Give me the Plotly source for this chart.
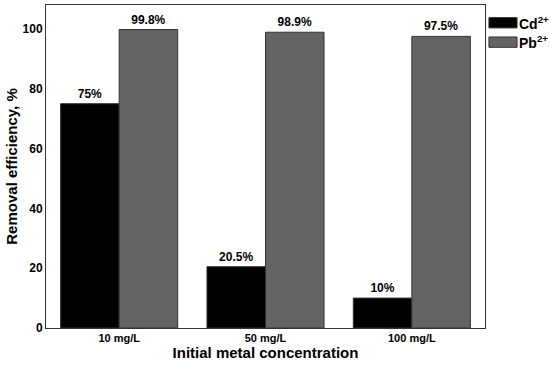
import plotly.graph_objects as go

categories = ["10 mg/L", "50 mg/L", "100 mg/L"]
cd_values = [75, 20.5, 10]
pb_values = [99.8, 98.9, 97.5]
cd_labels = ["75%", "20.5%", "10%"]
pb_labels = ["99.8%", "98.9%", "97.5%"]
y_ticks = [0, 20, 40, 60, 80, 100]

FONT = "Liberation Sans, Arial, sans-serif"
CD_COLOR = "#000000"
PB_COLOR = "#646464"

fig = go.Figure()
fig.add_trace(go.Bar(
    x=categories, y=cd_values, name="Cd2+",
    marker=dict(color=CD_COLOR, line=dict(color="#333333", width=1)),
    text=cd_labels, textposition="outside", cliponaxis=False,
    textfont=dict(family=FONT, size=12, color="black", weight="bold"),
    showlegend=False,
))
fig.add_trace(go.Bar(
    x=categories, y=pb_values, name="Pb2+",
    marker=dict(color=PB_COLOR, line=dict(color="#333333", width=1)),
    text=pb_labels, textposition="outside", cliponaxis=False,
    textfont=dict(family=FONT, size=12, color="black", weight="bold"),
    showlegend=False,
))

# legend drawn manually (wide swatches)
legend_items = [("Cd<sup>2+</sup>", CD_COLOR, 0.945), ("Pb<sup>2+</sup>", PB_COLOR, 0.885)]
for label, color, yc in legend_items:
    fig.add_shape(type="rect", xref="paper", yref="paper",
                  x0=1.009, x1=1.073, y0=yc - 0.016, y1=yc + 0.016,
                  fillcolor=color, line=dict(color="#333333", width=1))
    fig.add_annotation(xref="paper", yref="paper", x=1.076, y=yc,
                       text="<b>" + label + "</b>", showarrow=False,
                       xanchor="left", yanchor="middle", borderpad=0,
                       font=dict(family=FONT, size=14, color="black"))

fig.update_layout(
    width=550, height=371,
    margin=dict(l=46, r=65, t=5, b=43),
    paper_bgcolor="white", plot_bgcolor="white",
    barmode="group", bargap=0.2, bargroupgap=0,
    font=dict(family=FONT, color="black"),
    xaxis=dict(
        showline=True, linecolor="#333333", linewidth=1, mirror=True,
        ticks="", tickfont=dict(family=FONT, size=11, weight="bold"),
        title=dict(text="<b>Initial metal concentration</b>", standoff=2,
                   font=dict(family=FONT, size=15)),
    ),
    yaxis=dict(
        range=[0, 108], tickvals=y_ticks,
        showline=True, linecolor="#333333", linewidth=1, mirror=True,
        showgrid=False, zeroline=False, ticks="", ticklen=0,
        tickfont=dict(family=FONT, size=12, weight="bold"),
        title=dict(text="<b>Removal efficiency, %</b>", standoff=1,
                   font=dict(family=FONT, size=15)),
    ),
)

fig.write_html("out.html", config={"displayModeBar": False},
               post_script="document.body.style.margin='0';")
